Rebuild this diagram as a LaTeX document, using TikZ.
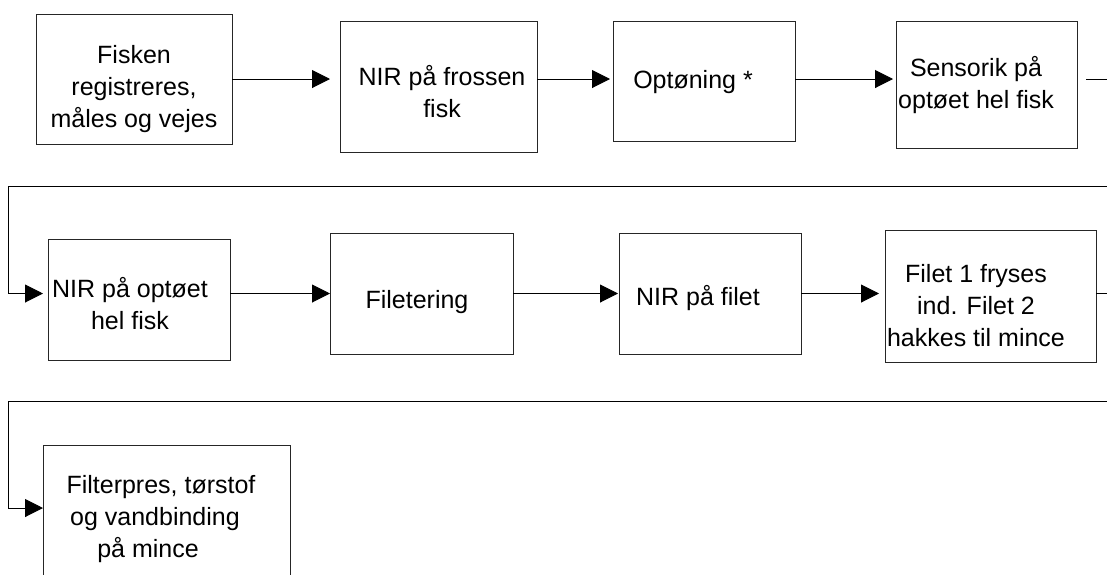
\documentclass[tikz,border=0pt]{standalone}
\usepackage{fontspec}
\setmainfont{Liberation Sans}
\usetikzlibrary{arrows.meta}
\newcommand{\boxlines}[1]{\begin{tabular}[t]{@{}c@{}}#1\end{tabular}}
\begin{document}
\begin{tikzpicture}[x=1pt,y=-1pt,
  box/.style={draw=black!85, line width=1pt, inner sep=0pt, outer sep=0pt},
  txt/.style={inner sep=0pt, anchor=base, font=\fontsize{25}{32}\selectfont},
  conn/.style={draw=black, line width=1pt},
  arr/.style={conn, -{Triangle[length=18pt,width=18pt]}}]
\useasboundingbox (0,0) rectangle (1107,574);
\clip (0,0) rectangle (1107,574);
% boxes
\node[box, minimum width=196pt, minimum height=130pt] (b1) at (134,79) {};
\node[box, minimum width=197pt, minimum height=131pt] (b2) at (438.5,86.5) {};
\node[box, minimum width=182pt, minimum height=120pt] (b3) at (704,81) {};
\node[box, minimum width=181pt, minimum height=127pt] (b4) at (986.5,84.5) {};
\node[box, minimum width=182pt, minimum height=121pt] (b5) at (139,299.5) {};
\node[box, minimum width=183pt, minimum height=121pt] (b6) at (421.5,293.5) {};
\node[box, minimum width=182pt, minimum height=121pt] (b7) at (710,293.5) {};
\node[box, minimum width=211pt, minimum height=132pt] (b8) at (990.5,296) {};
\node[box, minimum width=247pt, minimum height=175pt] (b9) at (166.5,532.5) {};
% texts
\node[txt] (t1) at (134,63) {\boxlines{Fisken\\registreres,\\måles og vejes}};
\node[txt] (t2) at (442,85) {\boxlines{NIR på frossen\\fisk}};
\node[txt] (t3) at (693,88) {Optøning *};
\node[txt] (t4) at (976,76) {\boxlines{Sensorik på\\optøet hel fisk}};
\node[txt] (t5) at (130,297) {\boxlines{NIR på optøet\\hel fisk}};
\node[txt] (t6) at (417,308) {Filetering};
\node[txt] (t7) at (698,305) {NIR på filet};
\node[txt] (t8) at (976,282) {\boxlines{Filet 1 fryses\\ind. Filet 2\\hakkes til mince}};
\node[txt] (t9) at (161,493) {\boxlines{Filterpres, tørstof\\og vandbinding\hspace*{12pt}\\på mince\hspace*{26pt}}};
% free ends
\coordinate (e1) at (1107,79);
\coordinate (s2) at (1107,186);
\coordinate (k2) at (8,186);
\coordinate (e2) at (1107,293.5);
\coordinate (s3) at (1107,401);
\coordinate (k3) at (8,401);
% row 1
\draw[arr, shorten >=10pt] (b1.east) -- (b1.east -| b2.west);
\draw[arr, shorten >=3pt] (b2.east |- b1.east) -- (b3.west |- b1.east);
\draw[arr, shorten >=3pt] (b3.east |- b1.east) -- (b4.west |- b1.east);
\draw[conn, shorten <=9pt] (b4.east |- b1.east) -- (e1);
% row 2
\draw[arr, shorten >=5pt] (s2) -- (k2) |- (b5.west |- b6.west);
\draw[arr] (b5.east |- b6.west) -- (b6.west);
\draw[arr, shorten >=1pt] (b6.east) -- (b7.west);
\draw[arr, shorten >=6pt] (b7.east) -- (b8.west |- b7.east);
\draw[conn] (b8.east |- b7.east) -- (e2);
% row 3
\draw[arr] (s3) -- (k3) |- ([yshift=-63pt]b9.north west);
\end{tikzpicture}
\end{document}
